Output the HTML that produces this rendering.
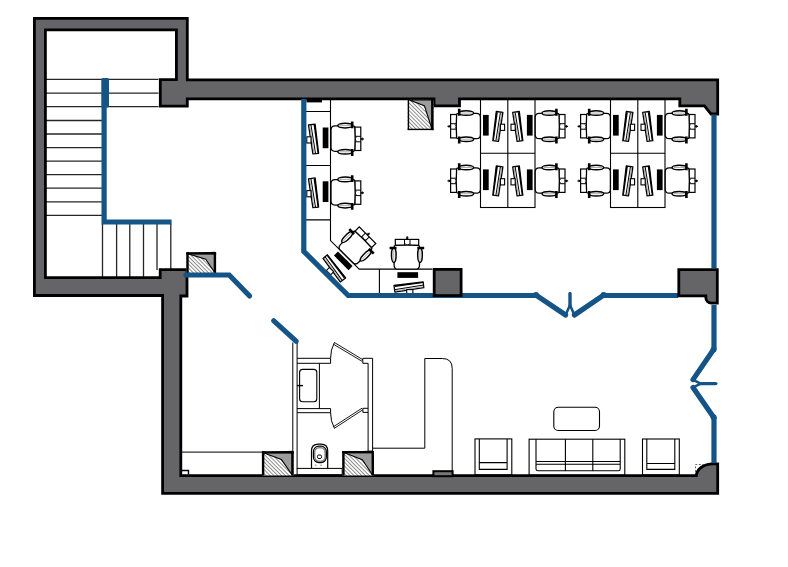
<!DOCTYPE html>
<html><head><meta charset="utf-8"><style>
html,body{margin:0;padding:0;background:#fff;width:788px;height:567px;overflow:hidden;font-family:"Liberation Sans",sans-serif;}
svg{display:block}
</style></head><body>
<svg width="788" height="567" viewBox="0 0 788 567">
<defs>
<pattern id="hatch" patternUnits="userSpaceOnUse" width="2.7" height="2.7" patternTransform="rotate(-45)">
<rect width="2.7" height="2.7" fill="#fff"/><line x1="0.5" y1="0" x2="0.5" y2="2.7" stroke="#707070" stroke-width="0.8"/>
</pattern>
<g id="chair">
<rect x="-17.9" y="-11.5" width="6" height="23.4" fill="#fff" stroke="#000" stroke-width="1.2"/>
<path d="M-17.9 -2.3H-11.9M-17.9 3.2H-11.9" stroke="#000" stroke-width="1"/>
<path d="M-13.5 -1.5L-11.9 0.5L-13.5 2.5" fill="none" stroke="#000" stroke-width="0.8"/>
<path d="M-21 0.4H-17.9" stroke="#000" stroke-width="1.3"/>
<path d="M-19.8 -1.3L-17.9 0.4L-19.8 2.1Z" fill="#000"/>
<path d="M-11.9 -11.2Q-12.6 0.4 -11.9 11.2Q-11.8 12.7 -10.2 12.7H7.9Q11.9 12.7 11.9 8.7V-8.7Q11.9 -12.7 7.9 -12.7H-10.2Q-11.8 -12.7 -11.9 -11.2Z" fill="#fff" stroke="#000" stroke-width="1.3"/>
<ellipse cx="-2.2" cy="-13" rx="7.3" ry="2.3" fill="#fff" stroke="#000" stroke-width="1.5"/>
<path d="M-8 -13H3.6" stroke="#999" stroke-width="0.8"/>
<ellipse cx="-2.2" cy="13.2" rx="7.3" ry="2.3" fill="#fff" stroke="#000" stroke-width="1.5"/>
<path d="M-8 13.2H3.6" stroke="#999" stroke-width="0.8"/>
<path d="M-9.3 -17.2V-10.3M-9.3 10.5V17.4" stroke="#000" stroke-width="2.6"/>
</g>
<g id="kbm">
<rect x="14.5" y="-11.1" width="5.7" height="20.7" fill="#000"/>
<path d="M27.8 -14.5L34.4 -13.6L30 15.3L24.3 14.7Z" fill="#fff" stroke="#000" stroke-width="1.3" stroke-linejoin="round"/>
<path d="M27.5 -13.8L29.3 -13.5L25.4 14.6L24.5 14.4Z" fill="#000"/>
<path d="M31.9 -13.5L27.4 14.7" stroke="#000" stroke-width="1"/>
<path d="M33.2 -13.2L28.9 14.9" stroke="#888" stroke-width="0.7"/>
<rect x="31.9" y="-1.8" width="4.2" height="6.2" fill="#fff" stroke="#000" stroke-width="1.1"/>
</g>
<g id="ws"><use href="#chair"/><use href="#kbm"/></g>
</defs>
<rect width="788" height="567" fill="#fff"/>

<!-- stair treads -->
<g stroke="#262626" stroke-width="1.3" fill="none">
<path d="M46 79.3H158.5M46 93.1H158.5M46 106.7H158.5M46 120.5H102M46 134H102M46 147.6H102M46 161.1H102M46 174.7H102M46 188.2H102M46 201.8H102M46 215.3H102"/>
<path d="M102.5 224V277M116.6 224V277M129.8 224V277M143.5 224V277M157 224V270M170.8 224V270"/>
</g>


<!-- desks -->
<g stroke="#000" stroke-width="1.1" fill="none">
<path d="M306 111.5H330.5M306 165.5H330.5M306 219.9H330.5M330.5 100V240.6L359.2 269.1H432.5M379.4 269.1V294"/>
<rect x="480.5" y="99.5" width="54.5" height="108"/>
<path d="M507.8 99.5V207.5M480.5 153.2H535"/>
<rect x="610.5" y="99.5" width="54.5" height="108"/>
<path d="M637.8 99.5V207.5M610.5 153.2H665"/>
</g>
<use href="#ws" transform="translate(468.5 126)"/>
<use href="#ws" transform="translate(547.1 126) scale(-1 1)"/>
<use href="#ws" transform="translate(468.5 180.5)"/>
<use href="#ws" transform="translate(547.1 180.5) scale(-1 1)"/>
<use href="#ws" transform="translate(598.5 126)"/>
<use href="#ws" transform="translate(677.1 126) scale(-1 1)"/>
<use href="#ws" transform="translate(598.5 180.5)"/>
<use href="#ws" transform="translate(677.1 180.5) scale(-1 1)"/>
<use href="#ws" transform="translate(342.9 138.6) scale(-1 1)"/>
<use href="#ws" transform="translate(342.9 192.4) scale(-1 1)"/>
<use href="#ws" transform="translate(355 248) rotate(135)"/>
<use href="#kbm" transform="translate(408.5 257.7) rotate(90) scale(1 -1)"/>
<use href="#chair" transform="translate(406.8 257.3) rotate(90) scale(1 -1)"/>


<!-- bathroom & lounge -->
<g stroke="#000" stroke-width="1" fill="none">
<path d="M292.8 342.5V473.5M297.1 342.5V468.5"/>
<path d="M297.1 358.3H330.6V363.3H297.1M297.1 408.6H330.6V412.7H297.1"/>
<path d="M319.4 363.3V408.6"/>
<rect x="299.6" y="369.4" width="17.2" height="32.3" rx="3" stroke-width="1.1"/>
<path d="M297.1 385.6H303" stroke-width="1.4"/>
<path d="M330.6 358.3A32 32 0 0 1 334.4 342.5M330.6 412.7A32 32 0 0 0 334.4 428.3"/>
<path d="M334.4 342.5L362.8 359.7M333.6 344.3L362 361.3" stroke-width="0.9"/>
<path d="M334.4 428.3L362.8 409.8M333.6 426.6L362 408.2" stroke-width="0.9"/>
<path d="M362.8 358.3H372.6V451.5M362.8 358.3V363.3H368.1V451.5M362.9 408.3H368.1M362.9 408.3V412.4H368.1"/>
<rect x="297.1" y="468.4" width="45.1" height="6.5"/>
<path d="M181.7 452.1H262M372.6 448.2H424.8V358.5H442.3Q452.2 358.5 452.2 368.4V471"/>
</g>
<g stroke="#000" fill="none">
<path d="M311.5 468.2V451Q311.5 444.2 318.3 444.2H320.9Q327.7 444.2 327.7 451V468.2" stroke-width="1.2"/>
<rect x="313.4" y="446.2" width="13" height="16.4" rx="5.5" stroke-width="1.2"/>
<rect x="314.8" y="447.8" width="10.3" height="13.4" rx="4.2" stroke-width="0.7"/>
<rect x="317.5" y="455" width="4" height="3.5" rx="1.3" stroke-width="1"/>
<path d="M314.8 465.3H316.6M315.7 464.4V466.2M320.2 465.3H322M321.1 464.4V466.2" stroke="#777" stroke-width="0.5"/>
</g>
<g stroke="#000" stroke-width="1.1" fill="none">
<rect x="475" y="438.9" width="36.8" height="36"/>
<path d="M479.3 438.9V469.4H507.1V438.9M479.3 462.6H507.1"/>
<rect x="642.5" y="439" width="36.8" height="36"/>
<path d="M646.8 439V469.4H674.8V439M646.8 463.5H674.8"/>
<rect x="553.8" y="407.2" width="45.7" height="23.3" rx="4.5"/>
<rect x="529.1" y="439.2" width="95.7" height="36"/>
<path d="M536 439.2V469Q536 470.8 538 470.8H618.2Q620.2 470.8 620.2 469V439.2M536 461.5H620.2M536 464.3H620.2M565.4 439.2V470.8M592.8 439.2V470.8"/>
</g>

<!-- walls -->
<path fill="#656567" stroke="#000" stroke-width="2.8" stroke-linejoin="miter" d="M34.4 18.4H187.3V79.8H717.7V114H711L704.5 105.8H679.8V98.9H459.5V105.9H434V98.9H187.3V106.2H160.3V79.7H176.4V29.8H45.4V277.6H160.2V269.7H187V296H180.8V475.7H696.3A16.5 12.5 0 0 1 712.8 463.8H717.7V493.4H162.6V295.5H34.4Z"/>
<rect x="306.5" y="99" width="15.5" height="3.4" fill="#000"/>
<rect x="433.4" y="471.2" width="19.2" height="5" fill="#777" stroke="#000" stroke-width="2"/>
<path d="M182 470.5H188.5V474.5" fill="none" stroke="#000" stroke-width="1.4"/>
<path d="M695.5 472V464.5H705" fill="none" stroke="#444" stroke-width="0.8" stroke-dasharray="2 1.6"/>

<!-- pillars -->
<rect x="407.7" y="99.8" width="25.9" height="30.3" fill="url(#hatch)"/>
<path d="M409.2 100L424.4 105.7L432.1 129.6V99.8Z" fill="#9d9d9d" stroke="#000" stroke-width="1.1" stroke-linejoin="round"/>
<rect x="407.7" y="99" width="1.4" height="31.1" fill="#000"/>
<rect x="407.7" y="128.7" width="25.9" height="1.4" fill="#000"/>
<rect x="431.2" y="98" width="2.4" height="32.1" fill="#000"/>
<rect x="186.3" y="252.2" width="29.8" height="20.8" fill="url(#hatch)"/>
<path d="M187.8 253.7L205.8 259.3L214.6 272.5V252.2Z" fill="#9d9d9d" stroke="#000" stroke-width="1.1" stroke-linejoin="round"/>
<rect x="186.3" y="252.2" width="29.8" height="2.4" fill="#000"/>
<rect x="186.3" y="252.2" width="2.4" height="20.8" fill="#000"/>
<rect x="213.7" y="252.2" width="2.4" height="20.8" fill="#000"/>
<rect x="261.9" y="451.2" width="31.8" height="24.3" fill="url(#hatch)"/>
<path d="M263.4 452.7L281.5 459.6L292.2 475.0V451.2Z" fill="#9d9d9d" stroke="#000" stroke-width="1.1" stroke-linejoin="round"/>
<rect x="261.9" y="451.2" width="31.8" height="2.4" fill="#000"/>
<rect x="261.9" y="451.2" width="2.4" height="24.3" fill="#000"/>
<rect x="291.3" y="451.2" width="2.4" height="24.3" fill="#000"/>
<rect x="342.2" y="451" width="31.8" height="24.5" fill="url(#hatch)"/>
<path d="M343.7 452.5L362.4 459.8L372.5 475.0V451Z" fill="#9d9d9d" stroke="#000" stroke-width="1.1" stroke-linejoin="round"/>
<rect x="342.2" y="451" width="31.8" height="2.4" fill="#000"/>
<rect x="342.2" y="451" width="2.4" height="24.5" fill="#000"/>
<rect x="371.6" y="451" width="2.4" height="24.5" fill="#000"/>

<!-- blue lines -->
<g stroke="#155487" stroke-width="5.2" fill="none" stroke-linejoin="miter" stroke-linecap="butt">
<path d="M104.1 107V222H171.6"/>
<path d="M186 275H229.2L249.6 296" stroke-linecap="round"/>
<path d="M273.8 320.8L296.1 341.2" stroke-linecap="round"/>
<path d="M303.8 99V251.4L348.2 295.5H535.9"/>
<path d="M603.8 295.5H678"/>
<path d="M536 295.2L565.6 315M574.4 315L603.6 295.2" stroke-linecap="round"/>
<path d="M714 114.5V268.3M714 305V349.3M714 417V463"/>
<path d="M713.6 349.5L693 379.6M693 387.6L713.6 417.3" stroke-linecap="round"/>
</g>
<rect x="101.3" y="78" width="7.7" height="29.5" rx="1.5" fill="#155487"/>
<g fill="#155487"><circle cx="536" cy="295" r="3"/><circle cx="603.6" cy="295" r="3"/><circle cx="713.6" cy="349.5" r="3"/><circle cx="713.6" cy="417.3" r="3"/></g>
<path d="M565.6 315L570 305L574.4 315" fill="none" stroke="#155487" stroke-width="2.6" stroke-linejoin="round"/>
<path d="M570 306V293.5" fill="none" stroke="#155487" stroke-width="3.4" stroke-linecap="round"/>
<path d="M692.8 379.6L700.6 383.6L692.8 387.6" fill="none" stroke="#155487" stroke-width="2.6" stroke-linejoin="round"/>
<path d="M700 383.6H715.8" fill="none" stroke="#155487" stroke-width="3.4" stroke-linecap="round"/>

<path fill="#656567" stroke="#000" stroke-width="2.8" d="M678.8 269.6H717.3V303.1H711.3A5.5 5.5 0 0 1 705.8 297.6V295.9H678.8Z"/>
<rect x="434.2" y="269.4" width="26.9" height="26.2" fill="#656567" stroke="#000" stroke-width="2.8"/>
</svg>
</body></html>
